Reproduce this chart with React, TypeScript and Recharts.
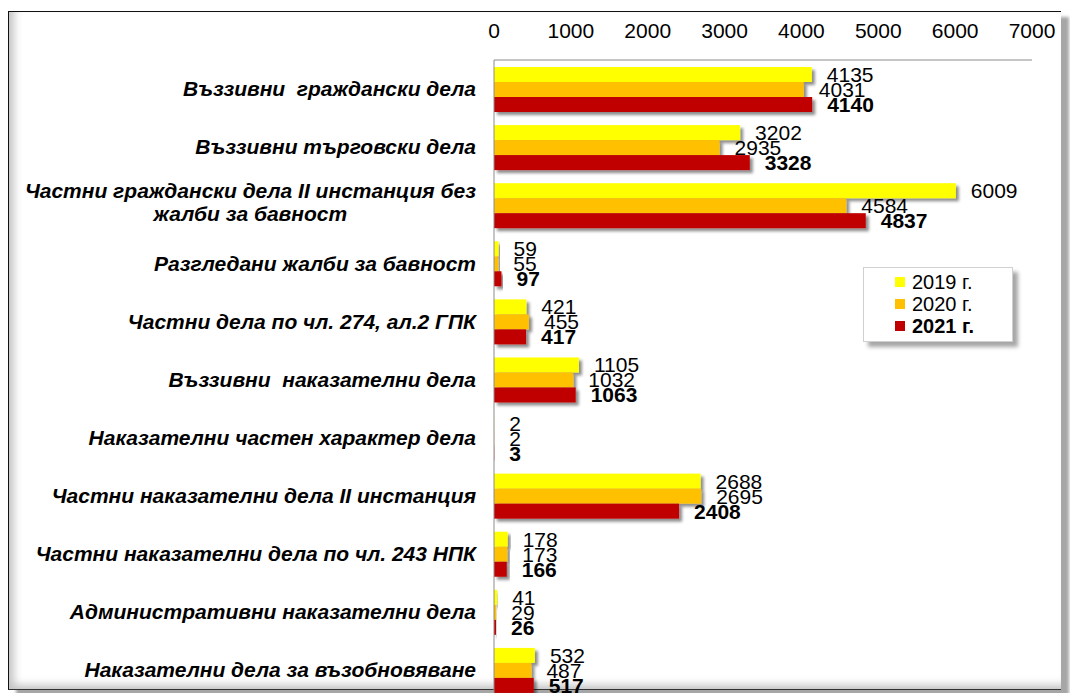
import React, { useLayoutEffect, useRef, useState } from 'react';
import { BarChart, Bar, XAxis, YAxis, LabelList } from 'recharts';

const categories = [
  'Въззивни  граждански дела',
  'Въззивни търговски дела',
  'Частни граждански дела II инстанция без\nжалби за бавност',
  'Разгледани жалби за бавност',
  'Частни дела по чл. 274, ал.2 ГПК',
  'Въззивни  наказателни дела',
  'Наказателни частен характер дела',
  'Частни наказателни дела II инстанция',
  'Частни наказателни дела по чл. 243 НПК',
  'Административни наказателни дела',
  'Наказателни дела за възобновяване',
];

const values2019 = [4135, 3202, 6009, 59, 421, 1105, 2, 2688, 178, 41, 532];
const values2020 = [4031, 2935, 4584, 55, 455, 1032, 2, 2695, 173, 29, 487];
const values2021 = [4140, 3328, 4837, 97, 417, 1063, 3, 2408, 166, 26, 517];

const xTicks = [0, 1000, 2000, 3000, 4000, 5000, 6000, 7000];

const series = [
  { key: 'y2019', name: '2019 г.', color: '#FFFF00', bold: false },
  { key: 'y2020', name: '2020 г.', color: '#FFC000', bold: false },
  { key: 'y2021', name: '2021 г.', color: '#C00000', bold: true },
];

const data = categories.map((name, i) => ({
  name,
  y2019: values2019[i],
  y2020: values2020[i],
  y2021: values2021[i],
}));

const FONT = '"Liberation Sans", Arial, sans-serif';

// category label: bold italic, multi-line labels are centred as a block
const CategoryTick = (props: any) => {
  const { x, y, payload } = props;
  const lines = String(payload.value).split('\n');
  const ref = useRef<SVGTextElement>(null);
  const [w, setW] = useState(0);

  useLayoutEffect(() => {
    if (ref.current) setW(ref.current.getBBox().width);
  }, [payload.value]);

  const style = { fontFamily: FONT, fontSize: 21, fontWeight: 700, fontStyle: 'italic', whiteSpace: 'pre' as const };

  if (lines.length === 1) {
    return (
      <text x={x} y={y} dy="0.35em" textAnchor="end" fill="#000" style={style}>
        {lines[0]}
      </text>
    );
  }
  const cx = x - w / 2;
  return (
    <g>
      <text ref={ref} x={w ? cx : x} y={y - 7} textAnchor={w ? 'middle' : 'end'} fill="#000" style={style}>
        {lines[0]}
      </text>
      <text x={w ? cx : x} y={y + 16} textAnchor={w ? 'middle' : 'end'} fill="#000" style={style}>
        {lines[1]}
      </text>
    </g>
  );
};

const ShadowBar = (props: any) => {
  const { x, y, width, height, fill } = props;
  if (!width || width <= 0) return null;
  return <rect x={x} y={y} width={width} height={height} fill={fill} filter="url(#barShadow)" />;
};

const ChartLegend = () => (
  <div
    style={{
      position: 'absolute',
      left: 863,
      top: 267,
      width: 117,
      background: '#fff',
      border: '1px solid #d0d0d0',
      boxShadow: '5px 5px 4px rgba(0,0,0,0.35)',
      padding: '3px 0 4px 31px',
      fontFamily: FONT,
      fontSize: 20,
      lineHeight: '22px',
      color: '#000',
    }}
  >
    {series.map((s) => (
      <div key={s.key} style={{ display: 'flex', alignItems: 'center', fontWeight: s.bold ? 700 : 400 }}>
        <span style={{ display: 'inline-block', width: 10, height: 10, background: s.color, marginRight: 7 }} />
        {s.name}
      </div>
    ))}
  </div>
);

export default function App() {
  return (
    <div style={{ position: 'fixed', left: 0, top: 0, width: 1070, height: 693, overflow: 'hidden', background: '#fff' }}>
      <svg width={0} height={0} style={{ position: 'absolute' }}>
        <defs>
          <filter id="barShadow" x="-10%" y="-30%" width="130%" height="200%">
            <feDropShadow dx="3" dy="3" stdDeviation="1.5" floodColor="#000" floodOpacity="0.45" />
          </filter>
        </defs>
      </svg>
      <div
        style={{
          position: 'absolute',
          left: 8,
          top: 11,
          width: 1052,
          height: 677,
          borderTop: '1px solid #111',
          borderLeft: '1px solid #111',
          borderBottom: '1px solid #333',
          boxShadow:
            'inset 11px 0 8px -6px #c4c4c4, inset 0 -10px 8px -6px #c4c4c4, 8px 6px 3px rgba(0,0,0,0.35)',
          background: '#fff',
        }}
      />
      <div style={{ position: 'absolute', left: 0, top: 0 }}>
        <BarChart
          width={1070}
          height={705}
          data={data}
          layout="vertical"
          margin={{ top: 11, right: 38, bottom: 6, left: 0 }}
          barCategoryGap={7}
          barGap={0}
        >
          <XAxis
            type="number"
            orientation="top"
            domain={[0, 7000]}
            ticks={xTicks}
            height={49}
            tickLine={false}
            tickSize={0}
            tickMargin={22}
            axisLine={{ stroke: '#8c8c8c' }}
            tick={{ fill: '#000', fontSize: 21, fontFamily: FONT }}
            interval={0}
          />
          <YAxis
            type="category"
            dataKey="name"
            width={494}
            tickLine={false}
            tickSize={0}
            tickMargin={18}
            axisLine={{ stroke: '#8c8c8c' }}
            tick={<CategoryTick />}
            interval={0}
          />
          {series.map((s) => (
            <Bar key={s.key} dataKey={s.key} name={s.name} fill={s.color} shape={<ShadowBar />} isAnimationActive={false}>
              <LabelList
                dataKey={s.key}
                position="right"
                offset={15}
                fill="#000"
                style={{ fontFamily: FONT, fontSize: 21, fontWeight: s.bold ? 700 : 400 }}
              />
            </Bar>
          ))}
        </BarChart>
      </div>
      <ChartLegend />
    </div>
  );
}
